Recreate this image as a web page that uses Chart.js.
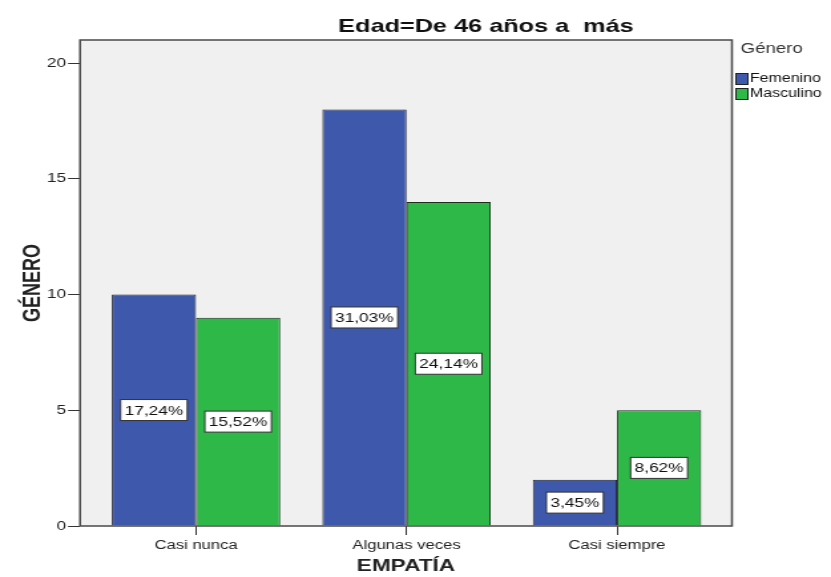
<!DOCTYPE html>
<html>
<head>
<meta charset="utf-8">
<script src="https://cdn.jsdelivr.net/npm/chart.js@4.4.1/dist/chart.umd.min.js"></script>
<style>
  body { margin: 0; background: #fff; }
  canvas { display: block; }
</style>
</head>
<body>
<!-- la imagen original esta estirada a lo ancho: canvas de 625 px mostrado a 831 px -->
<canvas id="grafico" width="625" height="577" style="width:831px;height:577px"></canvas>
<script>
const categorias = ['Casi nunca', 'Algunas veces', 'Casi siempre'];
const femenino = [10, 18, 2];
const masculino = [9, 14, 5];
const pctFemenino = ['17,24%', '31,03%', '3,45%'];
const pctMasculino = ['15,52%', '24,14%', '8,62%'];
const ticksY = [0, 5, 10, 15, 20];

Chart.defaults.font.family = '"Liberation Sans", Arial, sans-serif';
Chart.defaults.color = '#222';

const porcentajes = [pctFemenino, pctMasculino];

const extras = {
  id: 'extras',
  beforeDatasetsDraw(chart) {
    const {ctx, chartArea: a} = chart;
    ctx.save();
    ctx.fillStyle = '#f0f0f0';
    ctx.fillRect(a.left, a.top, a.width, a.height);
    ctx.restore();
  },
  afterDatasetsDraw(chart) {
    const {ctx, chartArea: a} = chart;
    ctx.save();
    // marco
    ctx.strokeStyle = '#4a4a4a';
    ctx.lineWidth = 1.5;
    ctx.strokeRect(a.left, a.top, a.width, a.height);

    // etiquetas de porcentaje
    ctx.font = '13px "Liberation Sans", Arial, sans-serif';
    ctx.textAlign = 'center';
    ctx.textBaseline = 'middle';
    chart.data.datasets.forEach((ds, d) => {
      chart.getDatasetMeta(d).data.forEach((bar, i) => {
        const txt = porcentajes[d][i];
        const w = ctx.measureText(txt).width + 6;
        const h = 21;
        const y = (bar.y + bar.base) / 2;
        ctx.fillStyle = '#fff';
        ctx.fillRect(bar.x - w / 2, y - h / 2, w, h);
        ctx.strokeStyle = '#333';
        ctx.lineWidth = 1;
        ctx.strokeRect(bar.x - w / 2, y - h / 2, w, h);
        ctx.fillStyle = '#111';
        ctx.fillText(txt, bar.x, y + 1);
      });
    });
    ctx.restore();
  },
  afterDraw(chart) {
    const {ctx} = chart;
    ctx.save();
    // titulo
    ctx.fillStyle = '#111';
    ctx.font = 'bold 19px "Liberation Sans", Arial, sans-serif';
    ctx.textAlign = 'center';
    ctx.textBaseline = 'middle';
    ctx.fillText('Edad=De 46 años a  más', 365.5, 27);

    // leyenda
    ctx.textAlign = 'left';
    ctx.fillStyle = '#333';
    ctx.font = '14px "Liberation Sans", Arial, sans-serif';
    ctx.fillText('Género', 557, 49);
    ctx.font = '12px "Liberation Sans", Arial, sans-serif';
    chart.data.datasets.forEach((ds, d) => {
      const y = 79 + d * 15;
      ctx.fillStyle = ds.backgroundColor;
      ctx.fillRect(553.5, y - 5.5, 9, 11);
      ctx.strokeStyle = '#222';
      ctx.lineWidth = 1;
      ctx.strokeRect(553.5, y - 5.5, 9, 11);
      ctx.fillStyle = '#111';
      ctx.fillText(ds.label, 564, y);
    });
    ctx.restore();
  }
};

const ctx = document.getElementById('grafico');
const grafico = new Chart(ctx, {
  type: 'bar',
  data: {
    datasets: [
      {
        label: 'Femenino',
        data: femenino.map((v, i) => ({x: i, y: v})),
        backgroundColor: '#3e58ac',
        borderColor: '#1a1f33',
        borderWidth: 1
      },
      {
        label: 'Masculino',
        data: masculino.map((v, i) => ({x: i, y: v})),
        backgroundColor: '#2eb848',
        borderColor: '#1a2e1e',
        borderWidth: 1
      }
    ]
  },
  options: {
    responsive: false,
    animation: false,
    layout: { padding: { left: 0, top: 40, right: 74.5, bottom: 0 } },
    categoryPercentage: 0.8,
    barPercentage: 1,
    plugins: {
      legend: { display: false },
      tooltip: { enabled: false }
    },
    scales: {
      x: {
        type: 'linear',
        offset: false,
        min: -0.551,
        max: 2.546,
        afterFit: s => { s.height = 51; },
        border: { display: false },
        grid: { offset: false, drawOnChartArea: false, drawTicks: true, tickLength: 9, tickColor: '#333' },
        ticks: {
          stepSize: 1,
          includeBounds: false,
          padding: 3,
          font: { size: 12.5 },
          callback: v => categorias[v] ?? ''
        },
        title: {
          display: true,
          text: 'EMPATÍA',
          font: { size: 17, weight: 'bold' },
          padding: { top: 0, bottom: 0 }
        }
      },
      y: {
        min: 0,
        max: 21,
        afterFit: s => { s.width = 60.2; },
        afterBuildTicks: s => { s.ticks = ticksY.map(v => ({value: v})); },
        border: { display: false },
        grid: { drawOnChartArea: false, drawTicks: true, tickLength: 9, tickColor: '#333' },
        ticks: { padding: 1.5, font: { size: 13 } },
        title: {
          display: true,
          text: 'GÉNERO',
          font: { size: 18, weight: 'bold' },
          padding: { top: 14, bottom: 0 }
        }
      }
    }
  },
  plugins: [extras]
});
</script>
</body>
</html>
